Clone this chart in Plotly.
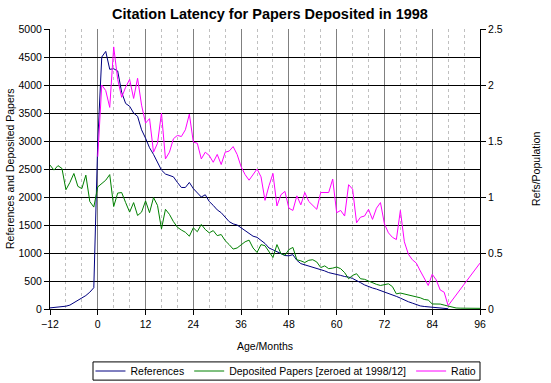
import plotly.graph_objects as go

# ---- data ----
ref_months = list(range(-12, 89))
references = [20, 25, 30, 40, 50, 70, 110, 150, 190, 240, 300, 380,
              3000, 4500, 4600, 4280, 4290, 4250, 3870, 3670, 3620, 3500,
              3440, 3200, 3050, 2880, 2760, 2620, 2480, 2410, 2380, 2360,
              2260, 2170, 2170, 2260, 2150, 2080, 2000, 2040, 1920, 1850,
              1770, 1720, 1640, 1560, 1520, 1500, 1450, 1400, 1360, 1300,
              1280, 1230, 1170, 1090, 1060, 1030, 990, 955, 950, 970,
              870, 810, 790, 770, 740, 720, 700, 680, 650, 635,
              625, 600, 580, 570, 545, 500, 470, 430, 400, 375,
              355, 330, 310, 280, 250, 225, 195, 160, 130, 105,
              80, 55, 45, 38, 35, 28, 20, 12, 5]

dep_months = list(range(-12, 97))
deposited = [2570, 2480, 2560, 2510, 2130, 2260, 2420, 2190, 2150, 2390, 1920, 1820,
             2180, 2240, 2300, 2400, 1830, 2070, 2080, 1900, 1730, 1900,
             1670, 1730, 1930, 1720, 1990, 1850, 1430, 1780, 1690, 1560,
             1460, 1410, 1370, 1300, 1450, 1380, 1510, 1420, 1360, 1400,
             1310, 1330, 1220, 1150, 1070, 1090, 1150, 1200, 1230, 1090,
             1010, 1150, 1130, 1020, 920, 1150, 990, 960, 1060, 1100,
             880, 860, 830, 870, 880, 840, 740, 770, 720, 730,
             750, 720, 650, 540, 600, 630, 540, 530, 500, 460,
             440, 420, 440, 450, 400, 270, 285, 270, 250, 230,
             220, 200, 170, 160, 90, 90, 88, 70, 48, 30,
             18, 15, 14, 13, 12, 12, 12]

ratio_months = list(range(0, 89)) + [96]
ratio = [1.36, 2.00, 1.95, 1.80, 2.34, 2.05, 1.89, 1.98, 2.05, 1.88,
         2.06, 1.82, 1.66, 1.70, 1.40, 1.48, 1.75, 1.34, 1.40, 1.52,
         1.55, 1.54, 1.60, 1.74, 1.49, 1.48, 1.34, 1.40, 1.37, 1.31,
         1.38, 1.29, 1.40, 1.41, 1.45, 1.38, 1.27, 1.20, 1.15, 1.20,
         1.25, 1.18, 0.97, 1.10, 1.21, 0.92, 1.02, 1.05, 0.90, 0.88,
         1.01, 0.93, 1.04, 0.96, 0.92, 0.89, 1.04, 1.04, 1.04, 1.16,
         0.86, 0.88, 0.83, 1.11, 1.07, 0.77, 0.82, 0.83, 0.89, 0.80,
         0.90, 0.95, 0.76, 0.68, 0.64, 0.62, 0.88, 0.60, 0.49, 0.44,
         0.41, 0.34, 0.27, 0.21, 0.31, 0.26, 0.17, 0.15, 0.03,
         0.41]

x_ticks = [-12, 0, 12, 24, 36, 48, 60, 72, 84, 96]

FONT = "Liberation Sans, Arial, sans-serif"
FS = 10.5

fig = go.Figure()
fig.add_trace(go.Scatter(x=ref_months, y=references, name="References", mode="lines",
                         line=dict(color="#000080", width=1)))
fig.add_trace(go.Scatter(x=dep_months, y=deposited, name="Deposited Papers [zeroed at 1998/12]",
                         mode="lines", line=dict(color="#008000", width=1)))
fig.add_trace(go.Scatter(x=ratio_months, y=ratio, name="Ratio", mode="lines", yaxis="y2",
                         line=dict(color="#ff00ff", width=1)))

fig.update_layout(
    width=551, height=383,
    margin=dict(l=50, r=71, t=29, b=74, autoexpand=False),
    paper_bgcolor="white", plot_bgcolor="white",
    font=dict(family=FONT, size=FS, color="black"),
    title=dict(text="<b>Citation Latency for Papers Deposited in 1998</b>",
               x=0.49, xanchor="center", y=0.963, yanchor="middle",
               font=dict(family=FONT, size=14.5, color="black")),
    xaxis=dict(range=[-12, 96], tickvals=x_ticks, showline=True, linecolor="black",
               linewidth=1, ticks="outside", ticklen=5, tickcolor="black",
               showgrid=True, gridcolor="#808080", gridwidth=1, zeroline=False,
               minor=dict(dtick=4, tick0=0, showgrid=True, gridcolor="#c0c0c0",
                          griddash="3px,3px", gridwidth=1, ticks="")),
    yaxis=dict(range=[0, 5000], dtick=500, showline=True, linecolor="black", linewidth=1,
               ticks="outside", ticklen=5, tickcolor="black", showgrid=True,
               gridcolor="black", gridwidth=1, zeroline=False),
    yaxis2=dict(range=[0, 2.5], dtick=0.5, overlaying="y", side="right", showline=True,
                linecolor="black", linewidth=1, ticks="outside", ticklen=5,
                tickcolor="black", showgrid=False, zeroline=False),
    legend=dict(orientation="h", xref="container", yref="container",
                x=0.519, xanchor="center", y=0.0313, yanchor="middle",
                borderwidth=0, bgcolor="rgba(0,0,0,0)",
                font=dict(family=FONT, size=FS), itemwidth=30, tracegroupgap=0),
    showlegend=True,
    shapes=[
        # frame drawn around the legend, like the reference's compact legend box
        dict(type="rect", xref="paper", yref="paper", x0=0.1, x1=1.0,
             y0=-0.254, y1=-0.189, line=dict(color="black", width=1),
             fillcolor="rgba(0,0,0,0)", layer="above"),
    ],
    annotations=[
        dict(text="Age/Months", xref="paper", yref="paper", x=0.5, y=-0.132,
             xanchor="center", yanchor="middle", showarrow=False,
             font=dict(family=FONT, size=FS)),
        dict(text="References and Deposited Papers", xref="paper", yref="paper",
             x=-0.093, y=0.5, xanchor="center", yanchor="middle", textangle=-90,
             showarrow=False, font=dict(family=FONT, size=FS)),
        dict(text="Refs/Population", xref="paper", yref="paper",
             x=1.13, y=0.5, xanchor="center", yanchor="middle", textangle=-90,
             showarrow=False, font=dict(family=FONT, size=FS)),
    ],
)

fig.write_html("out.html",
               config={"displayModeBar": False},
               post_script="document.body.style.margin='0px';"
                           "document.body.style.padding='0px';"
                           "document.body.style.overflow='hidden';")
